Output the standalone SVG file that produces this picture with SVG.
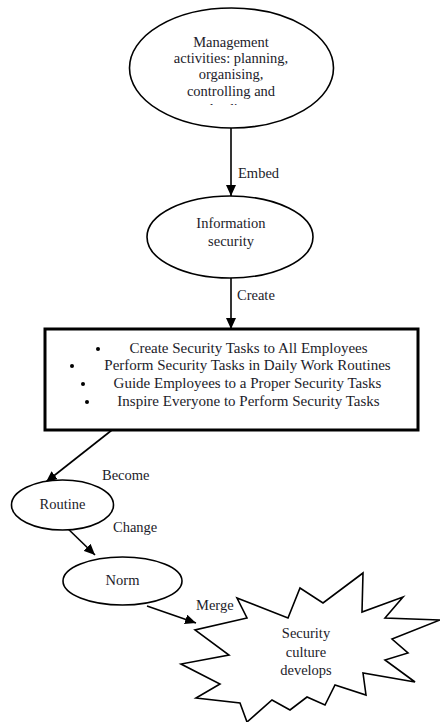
<svg xmlns="http://www.w3.org/2000/svg" width="440" height="722" viewBox="0 0 440 722">
  <style>
    .shape { fill: #ffffff; stroke: #000000; stroke-width: 1.6; }
    .box { fill: #ffffff; stroke: #000000; stroke-width: 3; }
    .edge { fill: none; stroke: #000000; stroke-width: 1.6; }
    text { font-family: "Liberation Serif", "Times New Roman", serif; font-size: 14.5px; fill: #1c1c2a; }
    .c { text-anchor: middle; }
    .task { font-size: 15px; }
  </style>
  <defs>
    <marker id="arrow" markerUnits="userSpaceOnUse" markerWidth="12" markerHeight="10" refX="11" refY="5" orient="auto">
      <path d="M0,0 L11,5 L0,10 Z" fill="#000000"/>
    </marker>
    <clipPath id="topClip">
      <rect x="130" y="90" width="200" height="15"/>
    </clipPath>
  </defs>

  <rect width="440" height="722" fill="#ffffff"/>

  <!-- connectors -->
  <g id="connectors">
    <line class="edge" x1="231" y1="128" x2="231" y2="196" marker-end="url(#arrow)"/>
    <text x="238" y="178">Embed</text>
    <line class="edge" x1="231" y1="278" x2="231" y2="329" marker-end="url(#arrow)"/>
    <text x="237" y="300">Create</text>
    <line class="edge" x1="112" y1="430" x2="46" y2="482" marker-end="url(#arrow)"/>
    <text x="102" y="480">Become</text>
    <line class="edge" x1="62" y1="523" x2="95" y2="555" marker-end="url(#arrow)"/>
    <text x="113" y="532">Change</text>
    <line class="edge" x1="147" y1="606" x2="196" y2="623" marker-end="url(#arrow)"/>
    <text x="196" y="610">Merge</text>
  </g>

  <!-- management activities -->
  <g id="management">
    <ellipse class="shape" cx="231.5" cy="68" rx="102" ry="60"/>
    <text class="c" x="231" y="47">Management</text>
    <text class="c" x="231" y="63">activities: planning,</text>
    <text class="c" x="231" y="79">organising,</text>
    <text class="c" x="231" y="96">controlling and</text>
    <text class="c" x="231" y="114" clip-path="url(#topClip)">leading</text>
  </g>

  <!-- information security -->
  <g id="information-security">
    <ellipse class="shape" cx="230" cy="237" rx="83" ry="41"/>
    <text class="c" x="231" y="228">Information</text>
    <text class="c" x="231" y="246">security</text>
  </g>

  <!-- security tasks -->
  <g id="security-tasks">
    <rect class="box" x="45" y="329" width="373" height="101"/>
    <circle cx="98" cy="349" r="2"/>
    <text class="c task" x="248.5" y="353">Create Security Tasks to All Employees</text>
    <circle cx="72" cy="366" r="2"/>
    <text class="c task" x="247.5" y="370">Perform Security Tasks in Daily Work Routines</text>
    <circle cx="83" cy="384" r="2"/>
    <text class="c task" x="247.5" y="388">Guide Employees to a Proper Security Tasks</text>
    <circle cx="87" cy="402" r="2"/>
    <text class="c task" x="248.5" y="406">Inspire Everyone to Perform Security Tasks</text>
  </g>

  <!-- routine -->
  <g id="routine">
    <ellipse class="shape" cx="62.5" cy="505" rx="51" ry="25"/>
    <text class="c" x="62.5" y="509">Routine</text>
  </g>

  <!-- norm -->
  <g id="norm">
    <ellipse class="shape" cx="122.5" cy="581" rx="59.5" ry="24"/>
    <text class="c" x="122.5" y="585">Norm</text>
  </g>

  <!-- security culture -->
  <g id="security-culture">
    <polygon class="shape" points="237,598 288,618 300,588 323,603 363,573 362,612 403,597 385,618 440,620 392,639 408,653 385,660 415,682 363,673 366,695 335,685 325,705 307,697 290,710 272,700 247,722 240,703 196,698 220,684 181,664 229,655 195,630 247,618"/>
    <text class="c" x="306" y="638">Security</text>
    <text class="c" x="306" y="657">culture</text>
    <text class="c" x="306" y="675">develops</text>
  </g>
</svg>
